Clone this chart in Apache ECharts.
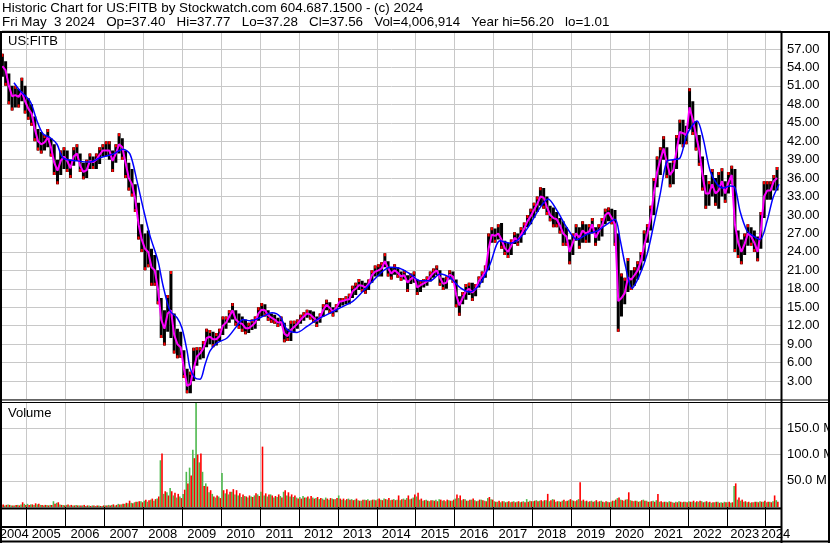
<!DOCTYPE html>
<html>
<head>
<meta charset="utf-8">
<title>US:FITB historic chart</title>
<script src="https://cdn.jsdelivr.net/npm/echarts@6.0.0/dist/echarts.min.js"></script>
<style>
  html, body { margin: 0; padding: 0; background: #fff; }
  #chart { width: 830px; height: 543px; }
</style>
</head>
<body>
<div id="chart"></div>
<script>
// monthly bars, first month = May 2004
const startYear = 2004
const startMonth = 5

// one row per year (2004 starts in May, 2024 ends in April)
const priceLow = [
  [52.5, 51.0, 48.0, 47.0, 47.5, 47.5, 48.5, 46.5],
  [45.5, 44.5, 42.0, 40.5, 40.0, 40.5, 41.0, 39.5, 36.5, 35.0, 36.5, 37.5],
  [37.0, 36.0, 38.0, 38.8, 37.0, 35.8, 36.0, 37.5, 37.5, 37.5, 38.3, 39.5],
  [39.5, 39.0, 37.0, 38.5, 40.0, 39.0, 36.0, 34.0, 33.0, 30.5, 26.0, 24.0],
  [21.0, 21.5, 18.5, 18.5, 15.5, 10.0, 8.8, 11.0, 10.0, 7.5, 6.7, 6.8],
  [3.5, 1.0, 1.0, 3.0, 5.5, 6.5, 6.7, 8.5, 9.0, 8.5, 8.8, 9.5],
  [10.5, 11.5, 12.5, 13.0, 12.0, 11.5, 11.0, 10.6, 10.8, 11.3, 11.5, 12.8],
  [13.5, 13.5, 12.8, 12.5, 12.3, 11.8, 12.0, 9.3, 9.5, 9.5, 10.8, 11.5],
  [12.3, 12.8, 13.3, 13.0, 12.5, 11.8, 12.5, 13.5, 14.5, 14.0, 13.5, 14.2],
  [15.0, 15.3, 15.5, 15.5, 16.5, 17.0, 17.8, 17.5, 17.2, 17.8, 19.0, 20.0],
  [20.0, 20.0, 21.5, 20.0, 19.5, 20.3, 19.8, 19.3, 19.5, 17.5, 18.8, 19.0],
  [17.0, 17.5, 18.2, 18.5, 19.2, 19.8, 20.2, 18.5, 17.8, 18.0, 19.5, 19.0],
  [15.0, 13.6, 15.5, 16.2, 17.0, 16.0, 16.8, 18.2, 19.0, 19.8, 21.0, 25.5],
  [25.5, 26.0, 24.5, 23.5, 23.0, 23.5, 25.3, 25.0, 25.5, 26.8, 28.0, 28.5],
  [29.5, 30.5, 31.5, 31.0, 30.0, 29.0, 28.0, 28.0, 27.0, 25.0, 25.0, 22.0],
  [23.5, 25.8, 24.5, 25.5, 25.5, 25.5, 27.0, 25.0, 25.8, 26.5, 28.5, 29.0],
  [28.5, 25.0, 11.0, 13.5, 15.5, 17.5, 17.8, 18.5, 19.5, 21.0, 22.5, 25.5],
  [27.5, 30.0, 34.5, 36.5, 39.0, 36.0, 34.5, 35.0, 37.5, 41.5, 41.0, 41.5],
  [44.0, 43.0, 40.5, 38.0, 34.0, 31.0, 31.5, 33.0, 31.5, 31.0, 33.0, 32.0],
  [33.5, 35.0, 24.0, 23.0, 22.0, 23.5, 25.0, 25.0, 24.0, 22.5, 24.5, 29.5],
  [32.5, 32.5, 34.0, 34.0]
].flat()

const priceHigh = [
  [56.2, 55.0, 53.0, 51.0, 51.0, 50.5, 52.3, 51.0],
  [49.0, 48.0, 46.0, 44.0, 43.5, 43.0, 44.0, 42.5, 41.5, 39.0, 40.5, 41.0],
  [40.5, 39.0, 41.0, 41.5, 40.0, 38.5, 39.0, 40.0, 39.5, 40.0, 41.0, 41.5],
  [42.0, 42.0, 40.5, 41.5, 43.3, 42.5, 40.5, 38.5, 37.5, 35.0, 32.0, 28.5],
  [27.0, 27.5, 24.5, 23.5, 21.0, 16.5, 14.5, 17.0, 20.9, 14.0, 11.5, 11.0],
  [8.0, 5.0, 4.5, 8.4, 8.5, 8.5, 9.5, 11.5, 11.3, 11.0, 10.8, 11.5],
  [13.5, 13.5, 14.5, 15.7, 14.5, 14.0, 13.5, 13.0, 12.5, 13.0, 13.5, 15.0],
  [15.7, 15.5, 14.5, 14.0, 13.8, 13.3, 13.5, 12.5, 11.5, 12.8, 12.8, 13.0],
  [13.8, 14.2, 14.6, 14.5, 14.3, 13.5, 14.0, 15.5, 16.2, 15.8, 15.0, 15.5],
  [16.5, 16.5, 16.8, 17.2, 18.5, 19.0, 19.6, 19.3, 19.0, 19.5, 21.0, 21.8],
  [22.0, 22.3, 23.8, 22.5, 21.5, 22.0, 21.5, 20.8, 21.0, 20.2, 20.5, 20.8],
  [19.5, 19.3, 19.6, 20.0, 20.8, 21.3, 21.8, 21.0, 19.8, 20.0, 21.0, 20.8],
  [19.5, 16.8, 17.5, 18.8, 19.0, 19.0, 18.8, 20.0, 20.8, 21.8, 27.0, 28.0],
  [27.8, 28.5, 28.7, 25.8, 25.5, 26.0, 27.2, 27.0, 28.0, 28.8, 30.0, 31.0],
  [32.0, 33.0, 34.5, 34.4, 33.0, 31.5, 31.2, 30.5, 29.5, 29.0, 28.0, 26.0],
  [27.0, 28.5, 28.0, 29.0, 28.5, 28.5, 29.5, 28.0, 28.5, 29.5, 31.0, 31.2],
  [31.0, 30.8, 27.0, 20.5, 19.8, 23.0, 21.0, 21.5, 22.5, 24.0, 27.5, 28.5],
  [31.5, 36.0, 39.5, 41.0, 42.8, 41.0, 38.5, 39.0, 43.0, 45.5, 45.5, 44.5],
  [50.6, 48.5, 45.3, 43.0, 39.5, 36.5, 35.5, 37.5, 36.0, 37.0, 37.6, 35.5],
  [37.0, 38.0, 37.5, 27.5, 26.0, 27.0, 28.5, 28.0, 27.5, 26.5, 30.5, 35.5],
  [35.5, 35.5, 36.5, 37.8]
].flat()

// short moving average (magenta)
const maShort = [
  [54.2, 53.5, 51.0, 49.3, 49.5, 49.2, 50.0, 48.5],
  [47.3, 46.5, 44.0, 42.0, 41.5, 41.8, 42.6, 41.0, 38.5, 37.2, 38.8, 39.5],
  [38.8, 37.6, 39.5, 40.0, 38.0, 37.0, 37.3, 38.8, 38.6, 39.0, 39.8, 40.5],
  [40.5, 40.5, 38.8, 40.0, 41.5, 41.0, 38.5, 36.0, 35.0, 32.5, 28.5, 26.0],
  [24.5, 24.0, 21.5, 21.0, 18.0, 13.0, 11.5, 14.0, 14.5, 10.5, 9.0, 8.5],
  [5.0, 2.2, 2.5, 5.0, 7.0, 7.5, 8.3, 10.0, 10.2, 9.8, 9.8, 10.3],
  [12.0, 12.5, 13.5, 14.5, 13.0, 12.5, 12.3, 11.6, 11.6, 12.0, 12.5, 14.0],
  [14.6, 14.5, 13.7, 13.3, 13.0, 12.5, 12.6, 10.7, 10.3, 11.3, 11.8, 12.3],
  [13.0, 13.5, 14.0, 13.8, 13.3, 12.8, 13.3, 14.6, 15.4, 14.9, 14.3, 14.9],
  [15.9, 16.0, 16.2, 16.3, 17.6, 18.0, 18.6, 18.5, 18.2, 18.8, 20.2, 20.8],
  [21.0, 21.3, 22.5, 21.3, 20.5, 21.0, 20.6, 20.0, 20.2, 19.0, 19.6, 20.0],
  [18.2, 18.6, 18.9, 19.2, 20.0, 20.6, 21.0, 19.8, 18.8, 19.0, 20.3, 20.0],
  [17.0, 15.3, 16.5, 17.6, 18.0, 17.4, 18.0, 19.3, 20.0, 20.8, 24.5, 26.8],
  [26.6, 27.0, 26.0, 24.6, 24.0, 25.0, 26.3, 25.8, 26.8, 27.8, 29.0, 29.8],
  [30.8, 31.8, 33.0, 32.8, 31.3, 30.0, 29.5, 29.3, 28.3, 27.0, 26.5, 24.0],
  [25.5, 27.0, 26.3, 27.5, 27.0, 27.3, 28.5, 26.3, 27.3, 28.3, 30.0, 30.4],
  [29.5, 28.5, 16.0, 16.5, 17.3, 19.8, 19.5, 20.2, 21.0, 22.5, 25.0, 27.0],
  [29.5, 33.5, 37.0, 39.0, 40.8, 38.5, 36.5, 37.3, 40.5, 43.5, 43.3, 43.0],
  [47.5, 45.5, 43.0, 40.5, 36.5, 33.5, 33.5, 35.0, 33.5, 34.0, 35.5, 33.5],
  [35.3, 36.5, 28.5, 25.5, 24.0, 25.3, 27.0, 26.5, 25.5, 24.0, 27.5, 33.0],
  [34.0, 34.0, 35.5, 36.0]
].flat()

// long moving average (blue), x in decimal years
const maLongT = [2004.673, 2004.828, 2005.085, 2005.265, 2005.419, 2005.599, 2005.779, 2005.933,
  2006.293, 2006.628, 2006.885, 2007.219, 2007.476, 2007.656, 2007.836, 2007.991,
  2008.171, 2008.377, 2008.506, 2008.686, 2008.866, 2008.994, 2009.123, 2009.200,
  2009.329, 2009.457, 2009.586, 2009.714, 2009.894, 2010.151, 2010.409, 2010.563,
  2010.743, 2011.000, 2011.308, 2011.514, 2011.694, 2011.951, 2012.208, 2012.465,
  2012.722, 2013.056, 2013.391, 2013.648, 2013.905, 2014.162, 2014.342, 2014.600,
  2014.857, 2015.114, 2015.371, 2015.628, 2015.885, 2016.142, 2016.399, 2016.656,
  2016.913, 2017.170, 2017.427, 2017.684, 2017.942, 2018.199, 2018.404, 2018.636,
  2018.893, 2019.150, 2019.407, 2019.664, 2019.921, 2020.127, 2020.256, 2020.384,
  2020.564, 2020.770, 2020.950, 2021.104, 2021.284, 2021.464, 2021.618, 2021.798,
  2021.978, 2022.235, 2022.389, 2022.569, 2022.749, 2022.903, 2023.083, 2023.211,
  2023.340, 2023.520, 2023.674, 2023.854, 2024.034, 2024.188, 2024.342]
const maLongV = [51.5, 50.2, 48.5, 45.3, 43.2, 42.6, 41.5, 39.3,
  38.8, 38.6, 39.3, 39.9, 40.7, 39.9, 35.5, 31.2,
  26.6, 22.5, 18.5, 14.4, 13.3, 11.6, 7.9, 5.1,
  3.5, 3.3, 5.7, 7.9, 9.2, 10.0, 12.0, 13.0,
  12.8, 13.3, 14.1, 13.5, 11.4, 10.9, 11.9, 13.0,
  13.8, 14.9, 16.0, 17.6, 19.3, 20.9, 21.5, 21.3,
  20.4, 19.3, 19.3, 20.4, 19.8, 18.2, 17.5, 18.8,
  22.0, 25.8, 25.4, 26.3, 28.5, 31.2, 32.6, 30.7,
  27.9, 26.0, 26.9, 27.4, 28.5, 29.3, 26.0, 22.0,
  18.1, 20.4, 23.6, 27.9, 33.3, 38.8, 39.0, 39.3,
  43.1, 45.3, 42.5, 37.2, 35.0, 34.4, 34.7, 34.4,
  30.6, 27.4, 26.6, 26.0, 29.0, 32.8, 35.0]

// volume in millions: up days (green) and down days (red)
const volUp = [
  [4, 3, 5, 3, 3, 4, 5, 6],
  [6, 5, 4, 5, 4, 3, 4, 4, 11, 8, 5, 4],
  [4, 3, 3, 4, 3, 3, 2, 3, 3, 2, 3, 2],
  [3, 4, 4, 3, 6, 5, 6, 7, 8, 9, 10, 11],
  [12, 10, 14, 12, 16, 89, 25, 28, 36, 22, 18, 20],
  [25, 67, 75, 109, 200, 85, 67, 45, 28, 25, 18, 20],
  [65, 26, 24, 29, 24, 22, 19, 21, 18, 20, 22, 24],
  [29, 22, 20, 24, 18, 19, 21, 29, 22, 20, 19, 18],
  [19, 21, 18, 16, 18, 17, 15, 16, 18, 14, 16, 15],
  [22, 14, 13, 16, 15, 14, 13, 12, 14, 15, 13, 14],
  [15, 14, 16, 14, 13, 15, 14, 13, 16, 17, 15, 18],
  [20, 14, 12, 14, 11, 13, 14, 15, 12, 11, 13, 12],
  [16, 17, 13, 15, 12, 14, 13, 12, 14, 12, 17, 15],
  [11, 10, 9, 11, 10, 9, 11, 10, 9, 11, 15, 12],
  [11, 13, 12, 11, 13, 11, 15, 10, 11, 12, 11, 13],
  [13, 11, 15, 12, 11, 10, 12, 11, 10, 12, 9, 10],
  [10, 12, 17, 14, 12, 15, 13, 11, 12, 11, 14, 12],
  [10, 12, 13, 10, 9, 10, 11, 9, 10, 11, 9, 10],
  [11, 10, 9, 10, 11, 10, 9, 8, 9, 10, 9, 10],
  [9, 8, 40, 14, 12, 10, 9, 8, 9, 10, 11, 10],
  [9, 10, 11, 13]
].flat()

const volDown = [
  [5, 4, 4, 3, 4, 3, 9, 4],
  [4, 5, 7, 6, 4, 4, 3, 4, 6, 9, 4, 3],
  [5, 4, 3, 3, 3, 4, 3, 2, 3, 3, 2, 3],
  [3, 3, 5, 4, 5, 6, 8, 12, 7, 10, 11, 9],
  [14, 13, 16, 15, 20, 102, 30, 22, 30, 27, 25, 17],
  [33, 45, 60, 93, 100, 102, 40, 39, 32, 20, 22, 17],
  [32, 34, 29, 34, 32, 26, 24, 20, 22, 19, 26, 21],
  [115, 26, 24, 22, 21, 24, 18, 32, 28, 24, 22, 16],
  [16, 18, 20, 21, 16, 19, 17, 14, 16, 17, 15, 17],
  [16, 16, 15, 14, 13, 16, 12, 14, 13, 12, 14, 13],
  [16, 13, 15, 17, 14, 13, 22, 15, 14, 22, 16, 24],
  [27, 16, 13, 12, 13, 12, 11, 14, 13, 14, 12, 14],
  [24, 22, 15, 12, 14, 16, 11, 14, 13, 11, 19, 14],
  [10, 12, 11, 9, 11, 10, 9, 11, 10, 9, 10, 11],
  [12, 11, 13, 13, 25, 13, 14, 11, 10, 14, 12, 15],
  [12, 13, 47, 14, 12, 11, 10, 13, 11, 10, 11, 9],
  [12, 14, 18, 13, 14, 28, 12, 12, 10, 13, 12, 10],
  [11, 10, 25, 11, 10, 9, 10, 8, 9, 10, 10, 9],
  [10, 12, 11, 12, 9, 11, 10, 9, 10, 8, 8, 9],
  [10, 9, 45, 18, 14, 11, 10, 9, 10, 9, 10, 12],
  [10, 9, 22, 10]
].flat()

const xMin = 2004.365
const xMax = 2024.393
const yearTicks = [2005, 2006, 2007, 2008, 2009, 2010, 2011, 2012, 2013, 2014,
  2015, 2016, 2017, 2018, 2019, 2020, 2021, 2022, 2023, 2024]
// year labels sit in the middle of each year cell
const yearLabelPos = [2004.68, 2005.5, 2006.5, 2007.5, 2008.5, 2009.5, 2010.5, 2011.5,
  2012.5, 2013.5, 2014.5, 2015.5, 2016.5, 2017.5, 2018.5, 2019.5, 2020.5, 2021.5,
  2022.5, 2023.46]
// the last, partial year is labelled on its own axis so it is not dropped as overlapping
const lastYearLabelPos = [2024.26]

const headerLine1 = 'Historic Chart for US:FITB by Stockwatch.com 604.687.1500 - (c) 2024'
const headerLine2 = 'Fri May  3 2024   Op=37.40   Hi=37.77   Lo=37.28   Cl=37.56   Vol=4,006,914   Year hi=56.20   lo=1.01'

const FONT = '"Liberation Sans", Arial, sans-serif'
const GRID_COLOR = '#c8c8c8'

const monthT = (i) => startYear + (startMonth - 1 + i + 0.5) / 12

const priceData = priceLow.map((lo, i) => {
  const up = i === 0 || maShort[i] >= maShort[i - 1] ? 1 : 0
  return [monthT(i), lo, priceHigh[i], up]
})
const maShortData = maShort.map((v, i) => [monthT(i), v])
const maLongData = maLongT.map((t, i) => [t, maLongV[i]])
const volumeData = volUp.map((v, i) => [monthT(i), v, volDown[i]])

const renderPrice = (params, api) => {
  const t = api.value(0)
  const lo = api.coord([t, api.value(1)])
  const hi = api.coord([t, api.value(2)])
  const up = api.value(3) > 0
  const tipY = up ? hi[1] : lo[1] - 3
  return {
    type: 'group',
    children: [
      { type: 'rect', shape: { x: lo[0] - 1.5, y: hi[1], width: 3, height: Math.max(1, lo[1] - hi[1]) }, style: { fill: '#000' } },
      { type: 'rect', shape: { x: lo[0] - 1, y: tipY, width: 2, height: 3 }, style: { fill: '#ff0000' } }
    ]
  }
}

const renderVolume = (params, api) => {
  const t = api.value(0)
  const base = api.coord([t, 0])
  const g = api.coord([t, api.value(1)])
  const r = api.coord([t, api.value(2)])
  return {
    type: 'group',
    children: [
      { type: 'rect', shape: { x: base[0] - 1.6, y: g[1], width: 1.6, height: base[1] - g[1] }, style: { fill: '#4db84d' } },
      { type: 'rect', shape: { x: base[0], y: r[1], width: 1.6, height: base[1] - r[1] }, style: { fill: '#ff0000' } }
    ]
  }
}

const hLine = (x1, x2, y, w) => ({
  type: 'line', z: 100, silent: true,
  shape: { x1, y1: y, x2, y2: y },
  style: { stroke: '#000', lineWidth: w }
})
const vLine = (x, y1, y2, w) => ({
  type: 'line', z: 100, silent: true,
  shape: { x1: x, y1, x2: x, y2 },
  style: { stroke: '#000', lineWidth: w }
})
const label = (text, x, y, size) => ({
  type: 'text', z: 100, silent: true, x, y,
  style: { text, fill: '#000', font: (size || 13) + 'px ' + FONT }
})

const yearLabelStyle = {
  show: true, margin: 21, hideOverlap: false,
  showMinLabel: true, showMaxLabel: true,
  color: '#000', fontSize: 13, fontFamily: FONT,
  formatter: (v) => String(Math.floor(v))
}

const chart = echarts.init(document.getElementById('chart'))

const option = {
  backgroundColor: '#fff',
  animation: false,
  grid: [
    { left: 2, right: 49, top: 30.5, height: 369, containLabel: false, outerBoundsMode: 'none' },
    { left: 2, right: 49, top: 402, height: 105, containLabel: false, outerBoundsMode: 'none' }
  ],
  xAxis: [
    {
      type: 'value', gridIndex: 0, min: xMin, max: xMax,
      axisLine: { show: false },
      axisTick: { show: false, customValues: yearTicks },
      axisLabel: { show: false },
      splitLine: { show: true, lineStyle: { color: GRID_COLOR, width: 1 } }
    },
    {
      type: 'value', gridIndex: 1, min: xMin, max: xMax,
      axisLine: { show: false },
      axisTick: { show: true, inside: false, length: 19, customValues: yearTicks, lineStyle: { color: '#000', width: 1 } },
      axisLabel: Object.assign({ customValues: yearLabelPos }, yearLabelStyle),
      splitLine: { show: true, lineStyle: { color: GRID_COLOR, width: 1 } }
    },
    {
      type: 'value', gridIndex: 1, min: xMin, max: xMax, position: 'bottom',
      axisLine: { show: false },
      axisTick: { show: false },
      axisLabel: Object.assign({ customValues: lastYearLabelPos }, yearLabelStyle),
      splitLine: { show: false }
    }
  ],
  yAxis: [
    {
      type: 'value', gridIndex: 0, position: 'right', min: 0, max: 60, interval: 3,
      axisLine: { show: false },
      axisTick: { show: false },
      axisLabel: {
        margin: 6, align: 'left', color: '#000', fontSize: 13, fontFamily: FONT,
        showMinLabel: false, showMaxLabel: false,
        formatter: (v) => v.toFixed(2)
      },
      splitLine: { show: true, lineStyle: { color: GRID_COLOR, width: 1 } }
    },
    {
      type: 'value', gridIndex: 1, position: 'right', min: 0, max: 200, interval: 50,
      axisLine: { show: false },
      axisTick: { show: false },
      axisLabel: {
        margin: 6, align: 'left', color: '#000', fontSize: 13, fontFamily: FONT,
        showMinLabel: false, showMaxLabel: false,
        formatter: (v) => v.toFixed(1) + ' M'
      },
      splitLine: { show: true, lineStyle: { color: GRID_COLOR, width: 1 } }
    }
  ],
  series: [
    {
      name: 'Price', type: 'custom', xAxisIndex: 0, yAxisIndex: 0,
      renderItem: renderPrice, clip: true,
      encode: { x: 0, y: [1, 2] },
      data: priceData
    },
    {
      name: 'MA short', type: 'line', xAxisIndex: 0, yAxisIndex: 0,
      showSymbol: false, z: 3,
      lineStyle: { color: '#ff00ff', width: 2 },
      data: maShortData
    },
    {
      name: 'MA long', type: 'line', xAxisIndex: 0, yAxisIndex: 0,
      showSymbol: false, smooth: 0.3, z: 4,
      lineStyle: { color: '#0000ff', width: 1.5 },
      data: maLongData
    },
    {
      name: 'Volume', type: 'custom', xAxisIndex: 1, yAxisIndex: 1,
      renderItem: renderVolume, clip: true,
      encode: { x: 0, y: [1, 2] },
      data: volumeData
    }
  ],
  graphic: [
    label(headerLine1, 2, 2, 13.4),
    label(headerLine2, 2, 16, 13.4),
    label('US:FITB', 8, 35),
    label('Volume', 8, 407),
    hLine(0, 830, 32, 2),
    hLine(0, 830, 400, 1),
    hLine(0, 830, 402.5, 1),
    hLine(0, 782, 508.5, 2),
    hLine(0, 782, 527, 2),
    hLine(0, 830, 541.5, 2),
    vLine(1, 31, 543, 2),
    vLine(781.5, 31, 543, 2),
    vLine(829, 31, 543, 2)
  ]
}

chart.setOption(option)
</script>
</body>
</html>
